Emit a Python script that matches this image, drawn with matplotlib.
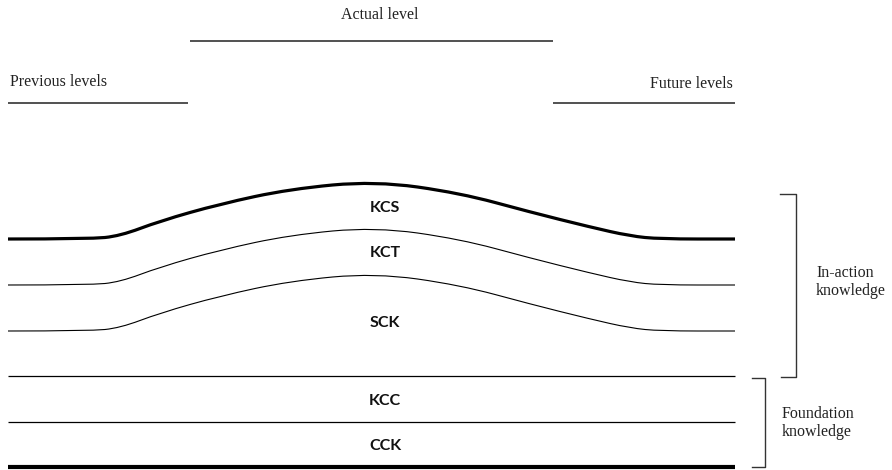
import matplotlib.pyplot as plt
from matplotlib.path import Path
from matplotlib.patches import PathPatch

# perfil de la curva (x en px, altura sobre la base)
curve_x = [8, 90, 120, 160, 220, 290, 375, 460, 530, 590, 630, 660, 735]
curve_rise = [0, 0, 3, 18, 35, 50, 58, 46, 27, 12, 3, 0, 0]

# capas curvas: base y grosor
curve_base = [239, 285, 331]
curve_lw = [2.3, 0.8, 0.8]
curve_labels = ['KCS', 'KCT', 'SCK']
curve_label_y = [208, 253, 323]

# capas planas
flat_y = [376, 422, 467]
flat_lw = [0.9, 0.9, 3.0]
flat_labels = ['KCC', 'CCK']
flat_label_y = [401, 446]

# niveles superiores
level_names = ['Previous levels', 'Actual level', 'Future levels']
level_x0 = [8, 190, 553]
level_x1 = [188, 553, 735]
level_y = [103, 41, 103]


def smooth_path(xs, ys):
    # curva cuadrática por puntos medios
    verts = [(xs[0], ys[0])]
    codes = [Path.MOVETO]
    for i in range(1, len(xs) - 1):
        mx = (xs[i] + xs[i + 1]) / 2
        my = (ys[i] + ys[i + 1]) / 2
        verts += [(xs[i], ys[i]), (mx, my)]
        codes += [Path.CURVE3, Path.CURVE3]
    verts.append((xs[-1], ys[-1]))
    codes.append(Path.LINETO)
    return Path(verts, codes)


fig = plt.figure(figsize=(8.92, 4.70), dpi=100)
ax = fig.add_axes([0, 0, 1, 1])
ax.set_xlim(0, 892)
ax.set_ylim(470, 0)
ax.axis('off')

serif = 'Liberation Serif'
txt_color = '#222222'
fs = 11.5

# niveles
ax.hlines(level_y, level_x0, level_x1, color='#222222', lw=1.1)
ax.text(10, 82, level_names[0], family=serif, fontsize=fs, color=txt_color, va='center', ha='left')
ax.text(380, 15, level_names[1], family=serif, fontsize=fs, color=txt_color, va='center', ha='center')
ax.text(733, 84, level_names[2], family=serif, fontsize=fs, color=txt_color, va='center', ha='right')

# curvas
for base, lw in zip(curve_base, curve_lw):
    ys = [base - r for r in curve_rise]
    ax.add_patch(PathPatch(smooth_path(curve_x, ys), fill=False, lw=lw,
                           edgecolor='black', capstyle='butt'))

for lab, y in zip(curve_labels, curve_label_y):
    ax.text(385, y, lab, family='Lato', weight='bold', fontsize=11.5,
            color='#111111', ha='center', va='center')

# líneas planas
for y, lw in zip(flat_y, flat_lw):
    ax.plot([8, 735], [y, y], color='black', lw=lw, solid_capstyle='butt')

for lab, y in zip(flat_labels, flat_label_y):
    ax.text(385, y, lab, family='Lato', weight='bold', fontsize=11.5,
            color='#111111', ha='center', va='center')

# corchetes
ax.plot([780, 796, 796, 781], [194, 194, 377, 377], color='#333333', lw=1.0)
ax.plot([752, 765, 765, 752], [378, 378, 467, 467], color='#333333', lw=1.0)
ax.text(816, 282, 'In-action\nknowledge', family=serif, fontsize=fs,
        color=txt_color, ha='left', va='center', linespacing=1.15)
ax.text(782, 423, 'Foundation\nknowledge', family=serif, fontsize=fs,
        color=txt_color, ha='left', va='center', linespacing=1.15)

fig.savefig('out.png', dpi=100, facecolor='white')
